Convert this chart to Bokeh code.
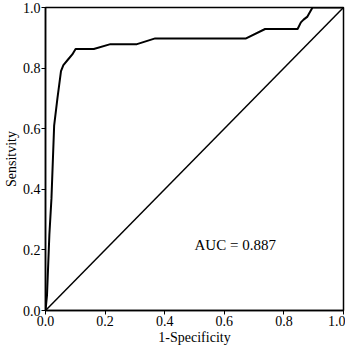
from bokeh.plotting import figure
from bokeh.models import Range1d, FixedTicker, Label, CustomJSTickFormatter
from bokeh.embed import file_html
from bokeh.resources import INLINE

# ROC curve points
fpr = [0.0, 0.005, 0.013, 0.020, 0.029, 0.040, 0.052, 0.060, 0.077, 0.090, 0.101,
       0.162, 0.218, 0.307, 0.368, 0.673, 0.737, 0.846, 0.857, 0.866, 0.879, 0.896, 1.0]
tpr = [0.0, 0.05, 0.25, 0.37, 0.61, 0.70, 0.79, 0.81, 0.83, 0.845, 0.863,
       0.863, 0.879, 0.879, 0.898, 0.898, 0.929, 0.929, 0.951, 0.960, 0.970, 1.0, 1.0]
diag_x = [0.0, 1.0]
diag_y = [0.0, 1.0]
ticks = [0.0, 0.2, 0.4, 0.6, 0.8, 1.0]
auc_text = "AUC = 0.887"
auc_pos = (0.50, 0.215)

FONT = "Liberation Serif"

p = figure(width=345, height=347, output_backend="svg", toolbar_location=None,
           x_range=Range1d(0, 1), y_range=Range1d(0, 1),
           min_border_left=35, min_border_right=2, min_border_top=7, min_border_bottom=4)
p.background_fill_color = "white"
p.border_fill_color = "white"
p.outline_line_color = "black"
p.outline_line_width = 1.5
p.xgrid.visible = False
p.ygrid.visible = False

fmt = CustomJSTickFormatter(code="return tick.toFixed(1);")
for ax in (p.xaxis[0], p.yaxis[0]):
    ax.ticker = FixedTicker(ticks=ticks)
    ax.formatter = fmt
    ax.minor_tick_line_color = None
    ax.major_tick_in = 0
    ax.major_tick_out = 4
    ax.major_tick_line_width = 1
    ax.axis_line_width = 1.5
    ax.major_label_text_font = FONT
    ax.major_label_text_font_size = "14px"
    ax.major_label_text_color = "black"
    ax.axis_label_text_font = FONT
    ax.axis_label_text_font_size = "14px"
    ax.axis_label_text_font_style = "normal"
    ax.axis_label_text_color = "black"
    ax.major_label_standoff = 1
    ax.axis_label_standoff = 1

p.xaxis.axis_label = "1-Specificity"
p.yaxis.axis_label = "Sensitvity"

p.line(diag_x, diag_y, line_color="black", line_width=1.5)
p.line(fpr, tpr, line_color="black", line_width=2)

p.add_layout(Label(x=auc_pos[0], y=auc_pos[1], text=auc_text, text_font=FONT,
                   text_font_size="15px", text_color="black",
                   text_align="left", text_baseline="middle"))

open("out.html", "w").write(file_html(p, INLINE))
